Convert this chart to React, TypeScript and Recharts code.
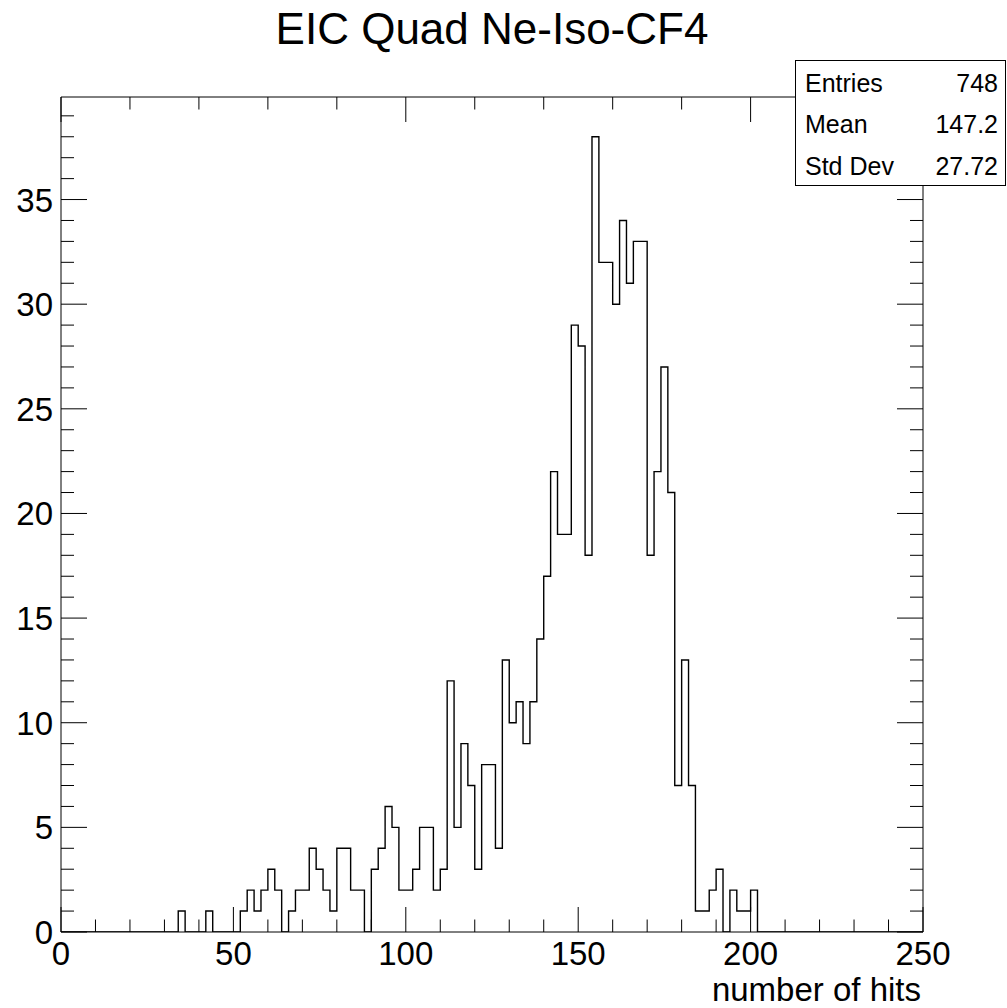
import React from 'react';
import { LineChart, Line, XAxis, YAxis } from 'recharts';

// Histogram: number of hits per event, 125 bins of width 2 from 0 to 250
const BIN_WIDTH = 2;
const X_DOMAIN: [number, number] = [0, 250];
const Y_DOMAIN: [number, number] = [0, 39.9];

const binCounts = [
  0, 0, 0, 0, 0, 0, 0, 0, 0, 0,
  0, 0, 0, 0, 0, 0, 0, 1, 0, 0,
  0, 1, 0, 0, 0, 0, 1, 2, 1, 2,
  3, 2, 0, 1, 2, 2, 4, 3, 2, 1,
  4, 4, 2, 2, 0, 3, 4, 6, 5, 2,
  2, 3, 5, 5, 2, 3, 12, 5, 9, 7,
  3, 8, 8, 4, 13, 10, 11, 9, 11, 14,
  17, 22, 19, 19, 29, 28, 18, 38, 32, 32,
  30, 34, 31, 33, 33, 18, 22, 27, 21, 7,
  13, 7, 1, 1, 2, 3, 0, 2, 1, 1,
  2, 0, 0, 0, 0, 0, 0, 0, 0, 0,
  0, 0, 0, 0, 0, 0, 0, 0, 0, 0,
  0, 0, 0, 0, 0,
];

// Axis divisions
const xTicks = [0, 10, 20, 30, 40, 50, 60, 70, 80, 90, 100, 110, 120, 130, 140, 150, 160, 170, 180, 190, 200, 210, 220, 230, 240, 250];
const xLabelTicks = [0, 50, 100, 150, 200, 250];
const yTicks = [0, 1, 2, 3, 4, 5, 6, 7, 8, 9, 10, 11, 12, 13, 14, 15, 16, 17, 18, 19, 20, 21, 22, 23, 24, 25, 26, 27, 28, 29, 30, 31, 32, 33, 34, 35, 36, 37, 38, 39];
const yLabelTicks = [0, 5, 10, 15, 20, 25, 30, 35];

// Statistics box
const statNames = ['Entries', 'Mean', 'Std Dev'];
const statValues = ['748', '147.2', '27.72'];

const TITLE = 'EIC Quad Ne-Iso-CF4';
const X_TITLE = 'number of hits';

const FONT = '"Liberation Sans", Arial, Helvetica, sans-serif';
const INK = '#000000';

// Step outline points: left edge of every bin, closed at the upper range edge
const histData = [
  ...binCounts.map((count, i) => ({ x: i * BIN_WIDTH, count })),
  { x: X_DOMAIN[1], count: 0 },
];

const MAJOR_TICK = 25;
const MINOR_TICK = 12.5;

const BottomTick = (props: any) => {
  const { x, y, payload } = props;
  const v = payload.value;
  const major = xLabelTicks.includes(v);
  return (
    <g>
      <line x1={x} x2={x} y1={y} y2={y - (major ? MAJOR_TICK : MINOR_TICK)} stroke={INK} strokeWidth={1} />
      {major && (
        <text x={x} y={y + 33} textAnchor="middle" fontSize={33} fontFamily={FONT} fill={INK}>
          {v}
        </text>
      )}
    </g>
  );
};

const TopTick = (props: any) => {
  const { x, y, payload } = props;
  const major = xLabelTicks.includes(payload.value);
  return <line x1={x} x2={x} y1={y} y2={y + (major ? MAJOR_TICK : MINOR_TICK)} stroke={INK} strokeWidth={1} />;
};

const LeftTick = (props: any) => {
  const { x, y, payload } = props;
  const v = payload.value;
  const major = yLabelTicks.includes(v);
  return (
    <g>
      <line x1={x} x2={x + (major ? 26 : 13)} y1={y} y2={y} stroke={INK} strokeWidth={1} />
      {major && (
        <text x={x - 8} y={y + 12} textAnchor="end" fontSize={33} fontFamily={FONT} fill={INK}>
          {v}
        </text>
      )}
    </g>
  );
};

const RightTick = (props: any) => {
  const { x, y, payload } = props;
  const major = yLabelTicks.includes(payload.value);
  return <line x1={x} x2={x - (major ? 26 : 13)} y1={y} y2={y} stroke={INK} strokeWidth={1} />;
};

const W = 1007;
const H = 1008;

export default function App() {
  return (
    <div style={{ position: 'absolute', left: 0, top: 0, width: W, height: H, background: '#ffffff' }}>
      <LineChart
        width={W}
        height={H}
        data={histData}
        margin={{ top: 87, right: 74, bottom: 0, left: 0 }}
      >
        <XAxis
          xAxisId="bottom"
          dataKey="x"
          type="number"
          domain={X_DOMAIN}
          ticks={xTicks}
          interval={0}
          height={76}
          tickSize={0}
          tickMargin={0}
          tickLine={false}
          axisLine={{ stroke: INK, strokeWidth: 1 }}
          tick={(p: any) => <BottomTick {...p} />}
          allowDataOverflow
        />
        <XAxis
          xAxisId="top"
          orientation="top"
          type="number"
          domain={X_DOMAIN}
          ticks={xTicks}
          interval={0}
          height={10}
          tickSize={0}
          tickMargin={0}
          tickLine={false}
          axisLine={{ stroke: INK, strokeWidth: 1 }}
          tick={(p: any) => <TopTick {...p} />}
          allowDataOverflow
        />
        <YAxis
          yAxisId="left"
          type="number"
          domain={Y_DOMAIN}
          ticks={yTicks}
          interval={0}
          width={61}
          tickSize={0}
          tickMargin={0}
          tickLine={false}
          axisLine={{ stroke: INK, strokeWidth: 1 }}
          tick={(p: any) => <LeftTick {...p} />}
          allowDataOverflow
        />
        <YAxis
          yAxisId="right"
          orientation="right"
          type="number"
          domain={Y_DOMAIN}
          ticks={yTicks}
          interval={0}
          width={10}
          tickSize={0}
          tickMargin={0}
          tickLine={false}
          axisLine={{ stroke: INK, strokeWidth: 1 }}
          tick={(p: any) => <RightTick {...p} />}
          allowDataOverflow
        />
        <Line
          xAxisId="bottom"
          yAxisId="left"
          dataKey="count"
          type="stepAfter"
          stroke={INK}
          strokeWidth={1.4}
          dot={false}
          activeDot={false}
          isAnimationActive={false}
        />
      </LineChart>
      <svg
        width={W}
        height={H}
        style={{ position: 'absolute', left: 0, top: 0, pointerEvents: 'none' }}
      >
        <text x={492} y={44} textAnchor="middle" fontSize={44} fontFamily={FONT} fill={INK}>
          {TITLE}
        </text>
        <text x={921} y={1001} textAnchor="end" fontSize={33} fontFamily={FONT} fill={INK}>
          {X_TITLE}
        </text>
        <rect x={795.5} y={60.5} width={210} height={125} fill="#ffffff" stroke={INK} strokeWidth={1} />
        {statNames.map((name, i) => (
          <g key={name}>
            <text x={805} y={91.7 + i * 41.7} fontSize={25} fontFamily={FONT} fill={INK}>
              {name}
            </text>
            <text x={998} y={91.7 + i * 41.7} textAnchor="end" fontSize={25} fontFamily={FONT} fill={INK}>
              {statValues[i]}
            </text>
          </g>
        ))}
      </svg>
    </div>
  );
}
